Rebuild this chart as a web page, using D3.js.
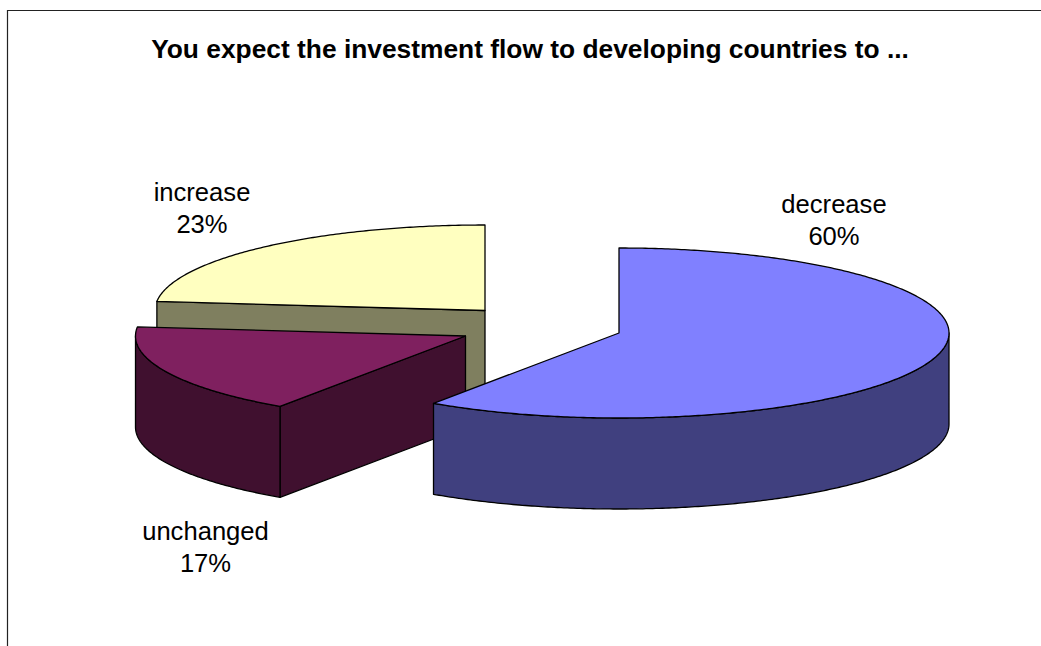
<!DOCTYPE html>
<html><head><meta charset="utf-8">
<script src="https://cdn.jsdelivr.net/npm/d3@7"></script>
<style>
html,body{margin:0;padding:0;background:#fff;overflow:hidden}
text{font-family:"Liberation Sans",Arial,sans-serif;fill:#000}
</style></head><body>
<svg id="c" width="1041" height="646"></svg>
<script>
const categories = ["decrease","unchanged","increase"];
const values = [59.5,17.2,23.3];
const percentLabels = ["60%","17%","23%"];
const topColors = ["#8080ff","#7f205f","#ffffc0"];
const sideColors = ["#40407f","#40102f","#7f7f5f"];
const titleText = "You expect the investment flow to developing countries to ...";

const W=1041,H=646;
const svg=d3.select("#c");
svg.append("path").attr("d",`M7.5,${H} V10.5 H${W}`).attr("fill","none").attr("stroke","#222").attr("stroke-width",1.2);
svg.append("text").attr("x",530).attr("y",58).attr("text-anchor","middle")
   .attr("font-weight","bold").attr("font-size",26.35).text(titleText);

// layout of each exploded slice (apex position, radii)
const layout=[
 {cx:619,cy:333,ry:85,labelX:834,labelY:213},
 {cx:465.5,cy:336,ry:85,labelX:205.5,labelY:539.5},
 {cx:485,cy:310.5,ry:85.5,labelX:202,labelY:201}
];
const rx=330, depth=91;
const arcs=d3.pie().sort(null).value(d=>d)(values);
const line=d3.line().x(d=>d[0]).y(d=>d[1]);
const pt=(i,a,dy=0)=>[layout[i].cx+rx*Math.sin(a), layout[i].cy-layout[i].ry*Math.cos(a)+dy];
const sample=(a0,a1)=>{const n=Math.max(2,Math.ceil(Math.abs(a1-a0)/0.01));return d3.range(n+1).map(k=>a0+(a1-a0)*k/n);};

// paint back to front
[2,1,0].forEach(i=>{
  const {startAngle:a0,endAngle:a1}=arcs[i];
  const L=layout[i], g=svg.append("g");
  const apex=[L.cx,L.cy];
  const style=(s,f)=>s.attr("fill",f).attr("stroke","#000").attr("stroke-width",1.3).attr("stroke-linejoin","round");
  // radial wall facing the viewer
  if(i!==0){
    style(g.append("path"),sideColors[i]).attr("d",line([apex,pt(i,a0),pt(i,a0,depth),[L.cx,L.cy+depth]])+"Z");
  }
  // outer rim wall in the lower half of the ellipse
  const w0=Math.max(a0,Math.PI/2), w1=Math.min(a1,3*Math.PI/2);
  if(w1>w0){
    const ang=sample(w0,w1);
    style(g.append("path"),sideColors[i]).attr("d",
      line([...ang.map(a=>pt(i,a)),...ang.slice().reverse().map(a=>pt(i,a,depth))])+"Z");
  }
  // top face
  style(g.append("path"),topColors[i]).attr("d",line([apex,...sample(a0,a1).map(a=>pt(i,a))])+"Z");
});

// labels
categories.forEach((c,i)=>{
  const L=layout[i];
  const t=svg.append("text").attr("text-anchor","middle").attr("font-size",25.6);
  t.append("tspan").attr("x",L.labelX).attr("y",L.labelY).text(c);
  t.append("tspan").attr("x",L.labelX).attr("y",L.labelY+32).text(percentLabels[i]);
});
</script>
</body></html>
